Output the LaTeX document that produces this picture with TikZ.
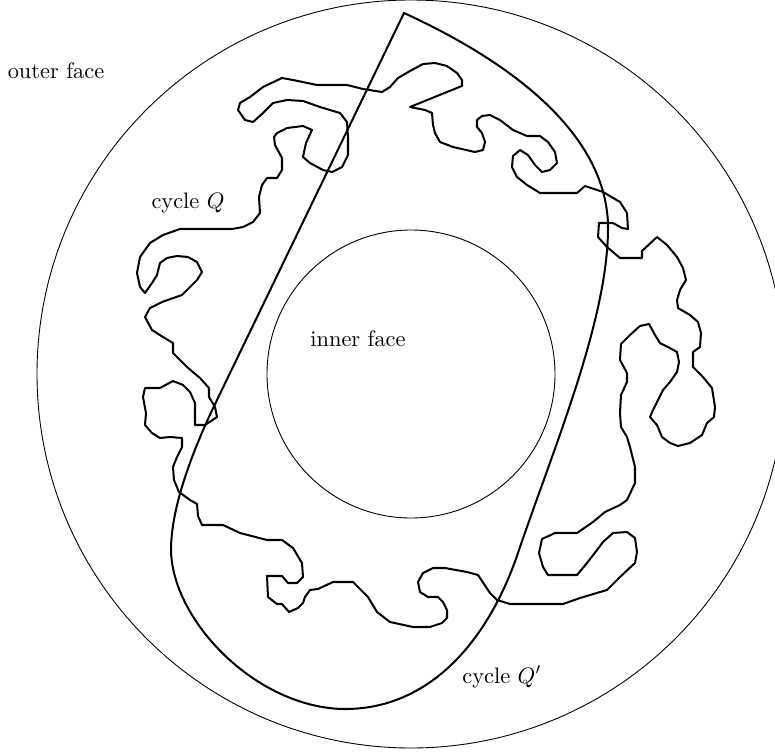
\documentclass[tikz,border=0pt]{standalone}
\usepackage{amssymb}
\usepackage{tikz}

\begin{document}
\begin{tikzpicture}[x=0.447pt, y=-0.447pt,
    face/.style={line width=0.4pt},
    cyc/.style={line width=0.9pt, line join=round},
    lbl/.style={anchor=base, inner sep=0pt}]
    \useasboundingbox (0,0) rectangle (775,753);
    \coordinate (centre) at (411,374);
    \draw[face] (centre) circle[radius=374];
    \draw[face] (centre) circle[radius=144];
    % cycle Q
    \draw[cyc] (238,110) -- (240,103) -- (250,97) -- (263,87) -- (282,78) -- (293,80) -- (317,85) -- (347,85) -- (363,89) -- (382,92)
        -- (390,87) -- (398,78) -- (410,71) -- (423,64) -- (435,63) -- (447,66) -- (457,73) -- (462,80) -- (462,86) -- (447,92)
        -- (410,107) -- (425,110) -- (432,113) -- (433,125) -- (435,133) -- (440,142) -- (453,147) -- (475,152) -- (483,150) -- (485,142)
        -- (482,133) -- (477,127) -- (477,120) -- (482,116) -- (490,115) -- (500,120) -- (513,130) -- (527,136) -- (540,136) -- (548,142)
        -- (555,152) -- (557,163) -- (550,170) -- (542,172) -- (535,165) -- (528,155) -- (520,150) -- (513,156) -- (512,167) -- (517,177)
        -- (527,185) -- (540,193) -- (577,193) -- (585,186) -- (603,192) -- (620,202) -- (627,213) -- (628,229) -- (622,228) -- (613,223)
        -- (599,223) -- (598,237) -- (607,247) -- (620,258) -- (642,258) -- (642,251) -- (657,237) -- (667,245) -- (677,257) -- (683,268)
        -- (686,280) -- (680,290) -- (677,300) -- (678,308) -- (690,315) -- (698,322) -- (701,333) -- (700,347) -- (693,352) -- (693,367)
        -- (703,377) -- (712,388) -- (715,407) -- (714,417) -- (707,423) -- (702,435) -- (690,443) -- (678,446) -- (670,443) -- (662,437)
        -- (657,425) -- (650,417) -- (653,410) -- (658,400) -- (663,390) -- (670,382) -- (677,372) -- (679,362) -- (677,352) -- (668,347)
        -- (660,343) -- (655,335) -- (649,324) -- (640,326) -- (630,335) -- (621,344) -- (620,360) -- (627,373) -- (627,382) -- (621,395)
        -- (620,413) -- (621,427) -- (627,437) -- (630,447) -- (635,467) -- (635,483) -- (627,500) -- (620,505) -- (605,512) -- (593,522)
        -- (577,533) -- (555,533) -- (542,539) -- (539,553) -- (543,567) -- (548,575) -- (577,575) -- (587,563) -- (597,550) -- (603,542)
        -- (613,533) -- (627,532) -- (635,538) -- (637,552) -- (635,563) -- (620,577) -- (607,590) -- (590,595) -- (580,598) -- (563,604)
        -- (543,604) -- (510,604) -- (497,600) -- (490,593) -- (478,575) -- (467,572) -- (445,568) -- (433,568) -- (423,573) -- (418,582)
        -- (420,592) -- (428,597) -- (438,597) -- (443,602) -- (447,610) -- (447,618) -- (442,623) -- (430,627) -- (413,627) -- (390,622)
        -- (377,612) -- (368,597) -- (353,582) -- (333,582) -- (318,589) -- (310,590) -- (305,597) -- (303,603) -- (298,608) -- (289,612)
        -- (282,604) -- (277,604) -- (268,597) -- (267,576) -- (282,576) -- (288,583) -- (297,583) -- (303,577) -- (302,563) -- (293,548)
        -- (282,540) -- (267,540) -- (240,533) -- (223,525) -- (202,525) -- (198,516) -- (197,504) -- (190,500) -- (179,492) -- (174,480)
        -- (173,467) -- (177,457) -- (182,447) -- (182,438) -- (170,437) -- (160,438) -- (152,433) -- (145,425) -- (146,413) -- (143,397)
        -- (145,388) -- (160,388) -- (173,381) -- (183,385) -- (190,392) -- (195,403) -- (195,425) -- (205,425) -- (217,417) -- (215,407)
        -- (209,397) -- (209,388) -- (200,378) -- (187,367) -- (173,353) -- (173,343) -- (163,337) -- (152,330) -- (145,317) -- (150,308)
        -- (162,302) -- (182,295) -- (197,280) -- (202,272) -- (197,262) -- (188,257) -- (177,256) -- (167,258) -- (160,263) -- (157,275)
        -- (152,283) -- (145,293) -- (140,287) -- (137,273) -- (140,257) -- (150,243) -- (163,235) -- (180,229) -- (232,229) -- (243,227)
        -- (253,222) -- (260,213) -- (259,197) -- (262,185) -- (267,178) -- (277,178) -- (282,170) -- (282,158) -- (275,145) -- (274,137)
        -- (277,133) -- (287,128) -- (303,126) -- (312,130) -- (306,143) -- (303,157) -- (310,163) -- (323,170) -- (332,172) -- (342,167)
        -- (348,155) -- (348,137) -- (347,122) -- (340,113) -- (320,107) -- (303,101) -- (287,100) -- (273,103) -- (263,113) -- (253,122)
        -- (245,120) -- cycle;
    % cycle Q'
    \draw[line width=0.9pt] (404,13) -- (217,400) .. controls (195,445) and (171,505) .. (171,550)
        .. controls (172,620) and (255,707) .. (343,709)
        .. controls (430,710) and (490,640) .. (520,547)
        .. controls (558,437) and (609,315) .. (608,225)
        .. controls (606,140) and (524,68) .. (404,13) -- cycle;
    \node[lbl] (outer) at (56,78) {outer face};
    \node[lbl] (cycQ) at (188,208) {cycle $Q$};
    \node[lbl] (inner) at (358,346) {inner face};
    \node[lbl] (cycQp) at (502,683) {cycle $Q'$};
\end{tikzpicture}
\end{document}
